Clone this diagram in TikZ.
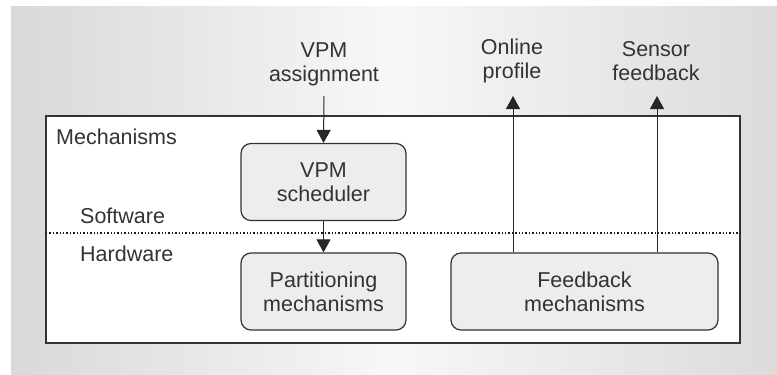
\documentclass[tikz,border=0pt]{standalone}
\usepackage{fontspec}
\setmainfont{Liberation Sans}
\usetikzlibrary{arrows.meta}
\tikzset{
  lbl/.style={font=\fontsize{21.5}{24}\selectfont, text=black!80, inner sep=0pt, align=center},
  mechbox/.style={draw=black!80, line width=1.2pt, fill=black!7, rounded corners=10pt,
    minimum height=77pt, lbl},
  flow/.style={draw=black!85, line width=1pt, -{Triangle[length=13pt,width=14pt]}},
}
\begin{document}
\begin{tikzpicture}[x=1pt,y=-1pt]
  \useasboundingbox (0,0) rectangle (777,375);
  % backdrop panel, lighter toward the middle
  \shade[left color=black!15, right color=black!14, middle color=black!3]
    (11,6) rectangle (777,375);
  % main frame
  \draw[black!80, line width=1.3pt, fill=white] (46,116) rectangle (740,343);
  % software / hardware boundary
  \draw[black!90, line width=1.4pt, dotted] (46,233) -- (740,233);

  \node[lbl, anchor=west] (mech) at (56,137) {Mechanisms};
  \node[lbl, anchor=west] (sw) at (80,216) {Software};
  \node[lbl, anchor=west] (hw) at (80,254) {Hardware};

  \node[mechbox, minimum width=165pt] (sched) at (323.5,182) {VPM\\scheduler};
  \node[mechbox, minimum width=165pt] (part) at (323.5,291.5) {Partitioning\\mechanisms};
  \node[mechbox, minimum width=267pt] (fb) at (584.5,291.5) {Feedback\\mechanisms};

  \node[lbl] (assign) at (324,64) {VPM\\assignment};
  \node[lbl] (online) at (512,61) {Online\\profile};
  \node[lbl] (sensor) at (656,61) {Sensor\\feedback};

  \coordinate (assignEnd) at (324,96);
  \coordinate (onlineEnd) at (513,96);
  \coordinate (sensorEnd) at (657,96);

  \draw[flow] (assignEnd) -- (sched.north);
  \draw[flow] (sched.south) -- (part.north);
  \draw[flow] (fb.north -| onlineEnd) -- (onlineEnd);
  \draw[flow] (fb.north -| sensorEnd) -- (sensorEnd);
\end{tikzpicture}
\end{document}
